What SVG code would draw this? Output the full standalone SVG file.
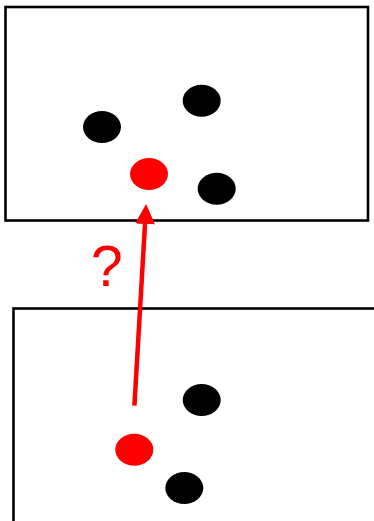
<svg xmlns="http://www.w3.org/2000/svg" width="374" height="521" viewBox="0 0 374 521">
  <style>
    .frame { fill: #ffffff; stroke: #000000; stroke-width: 2.6; }
    .dot { fill: #000000; }
    .target { fill: #ff0000; }
    .conn { stroke: #ff0000; stroke-width: 4.5; fill: none; }
    .label { font-family: "Liberation Sans", Arial, sans-serif; font-size: 57px; fill: #ff0000; }
  </style>
  <defs>
    <marker id="arrow" markerUnits="userSpaceOnUse" markerWidth="20" markerHeight="20" refX="0" refY="8.5" viewBox="0 0 17 17" orient="auto">
      <path d="M0,0 L17,8.5 L0,17 z" fill="#ff0000"/>
    </marker>
  </defs>
  <rect width="374" height="521" fill="#ffffff"/>

  <g id="frame-top">
    <rect class="frame" x="5.5" y="7" width="362.5" height="213.5"/>
  </g>
  <g id="frame-bottom">
    <rect class="frame" x="13.5" y="308.5" width="380" height="240"/>
  </g>

  <g id="top-dot-1"><ellipse class="dot" cx="102" cy="127" rx="19" ry="16"/></g>
  <g id="top-dot-2"><ellipse class="dot" cx="201.7" cy="100.7" rx="19" ry="16"/></g>
  <g id="top-dot-red"><ellipse class="target" cx="149" cy="174" rx="19" ry="16"/></g>
  <g id="top-dot-3"><ellipse class="dot" cx="216.7" cy="188.7" rx="19" ry="16"/></g>

  <g id="bottom-dot-1"><ellipse class="dot" cx="201.7" cy="400" rx="19" ry="16"/></g>
  <g id="bottom-dot-red"><ellipse class="target" cx="134.3" cy="449.7" rx="19" ry="16"/></g>
  <g id="bottom-dot-2"><ellipse class="dot" cx="184.3" cy="488" rx="19" ry="16"/></g>

  <g id="connectors">
    <line class="conn" x1="134.4" y1="405.7" x2="145" y2="224" marker-end="url(#arrow)"/>
    <text class="label" x="91" y="286">?</text>
  </g>
</svg>
